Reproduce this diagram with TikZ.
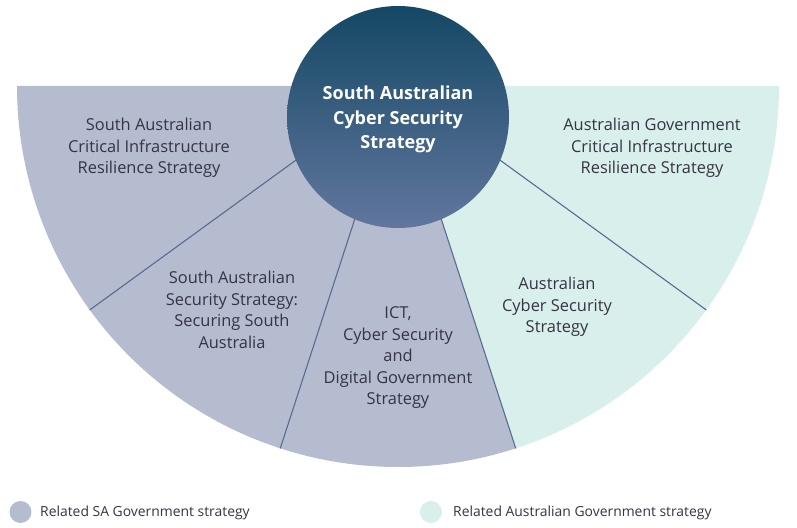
\documentclass[tikz,border=0pt]{standalone}
\usepackage{fontspec}
\setmainfont{Open Sans}
\usetikzlibrary{calc}
\definecolor{sagray}{RGB}{181,188,207}
\definecolor{agteal}{RGB}{217,239,235}
\definecolor{divline}{RGB}{88,108,145}
\definecolor{hubtop}{RGB}{20,72,100}
\definecolor{hubbot}{RGB}{98,118,158}
\definecolor{txt}{RGB}{52,52,68}
\begin{document}
\begin{tikzpicture}[x=1pt,y=1pt,
  lbl/.style={align=center,text=txt,font=\fontsize{16.4}{21.5}\selectfont,inner sep=0},
  hublbl/.style={align=center,text=white,font=\fontsize{18}{24.5}\selectfont\bfseries,inner sep=0},
  leg/.style={anchor=west,text=txt,font=\fontsize{13.9}{16}\selectfont,inner sep=0},
  divider/.style={draw=divline,line width=1.1pt}]
\useasboundingbox (0,0) rectangle (797,527);
\coordinate (C) at (398,441);
\coordinate (a180) at ($(C)+(180:381)$);
\coordinate (a216) at ($(C)+(216:381)$);
\coordinate (a252) at ($(C)+(252:381)$);
\coordinate (a288) at ($(C)+(288:381)$);
\coordinate (a324) at ($(C)+(324:381)$);
% sectors
\fill[sagray] (C) -- (a180) arc[start angle=180,end angle=288,radius=381] -- cycle;
\fill[agteal] (C) -- (a288) arc[start angle=288,end angle=360,radius=381] -- cycle;
% dividers
\draw[divider] (C) -- (a216);
\draw[divider] (C) -- (a252);
\draw[divider] (C) -- (a288);
\draw[divider] (C) -- (a324);
% hub
\node[circle,minimum size=222pt,inner sep=0,top color=hubtop,bottom color=hubbot] (hub) at (398,410) {};
\node[hublbl] (hubtext) at (398,407.5) {South Australian\\Cyber Security\\Strategy};
% labels
\node[lbl] (sacirs) at (149,379) {South Australian\\Critical Infrastructure\\Resilience Strategy};
\node[lbl] (agcirs) at (652,379) {Australian Government\\Critical Infrastructure\\Resilience Strategy};
\node[lbl] (sass) at (232,217) {South Australian\\Security Strategy:\\Securing South\\Australia};
\node[lbl] (ict) at (398,169) {ICT,\\Cyber Security\\and\\Digital Government\\Strategy};
\node[lbl] (acss) at (557,220) {Australian\\Cyber Security\\Strategy};
% legend
\node[circle,fill=sagray,minimum size=22pt,inner sep=0] (legsa) at (20.5,15) {};
\node[leg] (legsatext) at (40,14) {Related SA Government strategy};
\node[circle,fill=agteal,minimum size=22pt,inner sep=0] (legag) at (431,15) {};
\node[leg] (legagtext) at (453,14) {Related Australian Government strategy};
\end{tikzpicture}
\end{document}
